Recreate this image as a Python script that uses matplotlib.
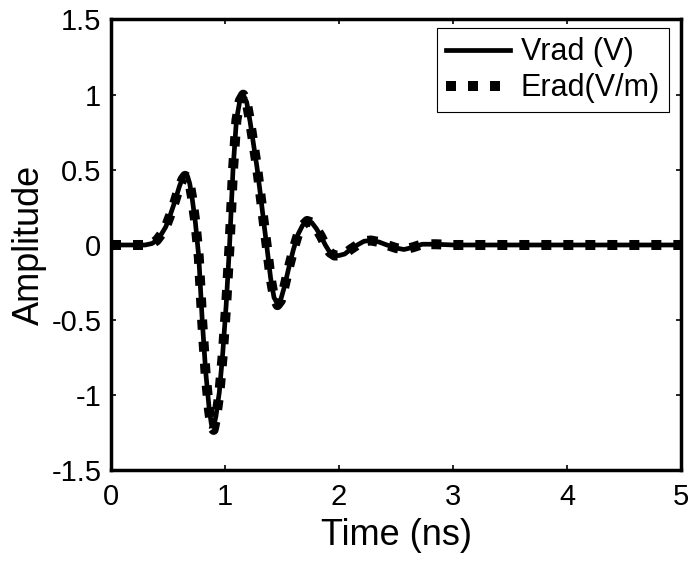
import matplotlib
matplotlib.use('Agg')
import matplotlib.pyplot as plt

# time axis (ns)
time_ns = [0.00, 0.30, 0.36, 0.40, 0.44, 0.48, 0.52, 0.56, 0.60, 0.63,
           0.65, 0.67, 0.69, 0.71, 0.74, 0.77, 0.80, 0.83, 0.86, 0.88,
           0.90, 0.92, 0.95, 0.98, 1.01, 1.04, 1.07, 1.10, 1.13, 1.16,
           1.19, 1.22, 1.25, 1.28, 1.31, 1.34, 1.37, 1.40, 1.43, 1.46,
           1.49, 1.52, 1.56, 1.60, 1.64, 1.68, 1.72, 1.76, 1.80, 1.84,
           1.88, 1.92, 1.96, 2.00, 2.05, 2.10, 2.16, 2.22, 2.28, 2.35,
           2.42, 2.50, 2.57, 2.65, 2.73, 2.85, 3.00, 5.00]

# radiated voltage (V)
vrad = [0.00, 0.00, 0.01, 0.03, 0.07, 0.12, 0.20, 0.29, 0.39, 0.45,
        0.47, 0.46, 0.41, 0.32, 0.15, -0.08, -0.50, -0.84, -1.08, -1.19,
        -1.21, -1.14, -0.98, -0.72, -0.40, 0.00, 0.50, 0.83, 0.96, 1.00,
        0.95, 0.82, 0.67, 0.52, 0.34, 0.15, -0.03, -0.22, -0.35, -0.39,
        -0.36, -0.28, -0.15, -0.03, 0.07, 0.13, 0.16, 0.15, 0.11, 0.06,
        0.00, -0.05, -0.07, -0.07, -0.06, -0.03, 0.00, 0.025, 0.03, 0.02,
        0.00, -0.02, -0.03, -0.015, 0.005, 0.005, 0.00, 0.00]

# radiated field (V/m), normalised
erad = [0.00, 0.00, 0.01, 0.03, 0.07, 0.12, 0.20, 0.29, 0.39, 0.44,
        0.46, 0.45, 0.41, 0.32, 0.15, -0.08, -0.51, -0.86, -1.10, -1.21,
        -1.23, -1.16, -0.99, -0.73, -0.40, 0.00, 0.50, 0.83, 0.96, 1.00,
        0.95, 0.82, 0.67, 0.52, 0.34, 0.15, -0.03, -0.22, -0.35, -0.40,
        -0.37, -0.28, -0.15, -0.03, 0.07, 0.13, 0.16, 0.15, 0.11, 0.06,
        0.00, -0.05, -0.07, -0.07, -0.06, -0.03, 0.00, 0.025, 0.03, 0.02,
        0.00, -0.02, -0.03, -0.015, 0.005, 0.005, 0.00, 0.00]

x_ticks = [0, 1, 2, 3, 4, 5]
x_labels = ['0', '1', '2', '3', '4', '5']
y_ticks = [-1.5, -1, -0.5, 0, 0.5, 1, 1.5]
y_labels = ['-1.5', '-1', '-0.5', '0', '0.5', '1', '1.5']

plt.rcParams['font.family'] = ['Liberation Sans', 'DejaVu Sans']

fig = plt.figure(figsize=(6.93, 5.63), dpi=100)
ax = fig.add_axes([0.1602, 0.1643, 0.8225, 0.8011])

ax.plot(time_ns, vrad, color='black', linewidth=3.4, label='Vrad (V)')
ax.plot(time_ns, erad, color='black', linewidth=7.2, dashes=(1.0, 1.2),
        dash_capstyle='butt', label='Erad(V/m)')

ax.set_xlim(0, 5)
ax.set_ylim(-1.5, 1.5)
ax.set_xticks(x_ticks)
ax.set_xticklabels(x_labels)
ax.set_yticks(y_ticks)
ax.set_yticklabels(y_labels)

ax.tick_params(direction='in', length=3.5, width=1.2, top=True, right=True,
               labelsize=21, pad=7)
ax.tick_params(axis='x', pad=9)
for s in ax.spines.values():
    s.set_linewidth(2.5)

ax.set_xlabel('Time (ns)', fontsize=26, labelpad=5)
ax.set_ylabel('Amplitude', fontsize=26, labelpad=3)

leg = ax.legend(loc='upper right', bbox_to_anchor=(0.979, 0.981),
                borderaxespad=0, fontsize=22, handlelength=2.1,
                handletextpad=0.35, borderpad=0.3, labelspacing=0.2,
                fancybox=False, framealpha=1)
leg.get_frame().set_edgecolor('black')
leg.get_frame().set_linewidth(0.8)

fig.savefig('out.png', dpi=100)
